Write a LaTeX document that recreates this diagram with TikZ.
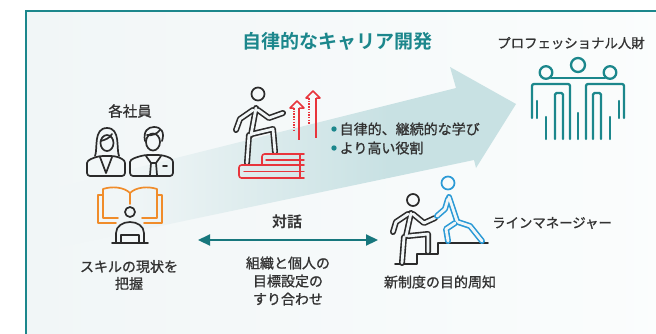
\documentclass[tikz,border=0pt]{standalone}
\usepackage{fontspec}
\setmainfont{Noto Sans CJK JP}[BoldFont={Noto Sans CJK JP Bold}]
\newfontfamily\jpmid{Noto Sans CJK JP}[FakeBold=1.1]
\usetikzlibrary{arrows.meta}

\definecolor{tealmain}{HTML}{1C878C}
\definecolor{tealdark}{HTML}{17777D}
\definecolor{arrfill}{HTML}{C8E1E3}
\definecolor{bgA}{HTML}{F1F6F7}
\definecolor{bgB}{HTML}{FBFDFD}
\definecolor{txt}{HTML}{333333}
\definecolor{icon}{HTML}{2B2B2B}
\definecolor{redi}{HTML}{E8353C}
\definecolor{orangei}{HTML}{F08C2A}
\definecolor{bluei}{HTML}{2B9AD6}

\pgfdeclarehorizontalshading{arrowfade}{100bp}{color(0bp)=(bgA); color(32bp)=(bgA); color(48bp)=(arrfill!55!bgA); color(61bp)=(arrfill); color(100bp)=(arrfill)}

\tikzset{
  label/.style={text=txt, font=\jpmid\fontsize{14}{16}\selectfont, inner sep=0pt, align=center},
  heading/.style={text=txt, font=\jpmid\fontsize{14.5}{16}\selectfont, inner sep=0pt},
  thinicon/.style={draw=icon, line width=1.7pt, line cap=round, line join=round},
  outerline/.style={line width=6pt, line cap=round, line join=round},
  innerline/.style={draw=bgA, line width=2.8pt, line cap=round, line join=round},
  peopleline/.style={draw=tealmain, line width=2.3pt, line cap=round, line join=round},
}

\begin{document}
\begin{tikzpicture}[x=1pt,y=-1pt]
\useasboundingbox (0,0) rectangle (656,333);

% panel with teal frame
\shade[left color=bgA, right color=bgB] (26,11) rectangle (680,350);
\draw[tealmain, line width=2.2pt] (26,350) -- (26,11) -- (680,11);

% wide growth arrow
\path[shading=arrowfade]
  (60,187) -- (456,88) -- (450,67) -- (516,104) -- (476,168) -- (474,160) -- (60,247) -- cycle;

% title
\node[text=tealmain, font=\fontsize{19}{22}\selectfont\bfseries, inner sep=0pt] (title) at (337,41) {自律的なキャリア開発};

% professional group
\node[heading, font=\jpmid\fontsize{13.4}{16}\selectfont] (pro) at (571,43) {プロフェッショナル人財};
\draw[peopleline] (578,65) circle[radius=7pt];
\draw[peopleline] (546,72.5) circle[radius=6.3pt];
\draw[peopleline] (610,72.5) circle[radius=6.3pt];
\draw[peopleline] (551,78) -- (605,78);
% left figure
\draw[peopleline, rounded corners=2pt] (532,118) -- (532,84) -- (570,84) -- (570,139);
\draw[peopleline] (537,101) -- (537,118);
\draw[peopleline] (546,117) -- (546,139);
\draw[peopleline, rounded corners=1.5pt] (555,139) -- (555,93) -- (563,93) -- (563,139);
% right figure
\draw[peopleline, rounded corners=2pt] (624,118) -- (624,84) -- (586,84) -- (586,139);
\draw[peopleline] (619,101) -- (619,118);
\draw[peopleline] (610,117) -- (610,139);
\draw[peopleline, rounded corners=1.5pt] (601,139) -- (601,93) -- (593,93) -- (593,139);
% centre figure
\draw[peopleline] (578,113) -- (578,139);

% employees
\node[heading] (emp) at (130,111) {各社員};
% woman
\draw[thinicon] (107,143) ellipse[x radius=6.5pt, y radius=8pt];
\draw[thinicon] (95,156) .. controls (98,149) and (93,128) .. (107,128) .. controls (121,128) and (116,149) .. (119,156);
\draw[thinicon] (100.5,141) .. controls (105,140) and (110,138) .. (112,134);
\draw[thinicon, rounded corners=3pt] (87,176) -- (87,166) .. controls (87,160) and (93,158) .. (100,156) -- (114,156) .. controls (121,158) and (125,160) .. (125,166) -- (125,176) -- cycle;
\draw[thinicon] (100,157) -- (106,173) -- (112,157);
% man
\draw[thinicon] (153,142) ellipse[x radius=7pt, y radius=8.5pt];
\draw[thinicon] (145,141) .. controls (143,131) and (148,127) .. (154,127) .. controls (161,127) and (165,132) .. (162,141);
\draw[thinicon] (147,135) .. controls (152,136) and (157,134) .. (160,130);
\draw[thinicon, rounded corners=3pt] (130,176) -- (130,165) .. controls (130,159) and (137,157) .. (145,155) -- (161,155) .. controls (169,157) and (173,159) .. (173,165) -- (173,176) -- cycle;
\draw[thinicon] (146,156) -- (151,163) -- (156,163) -- (161,156);
\draw[thinicon] (151,163) -- (150,175);
\draw[thinicon] (156,163) -- (157,175);
\draw[thinicon] (163,166) -- (167,166);

% reader with open book
\draw[orangei, line width=1.7pt, line join=round, line cap=round]
  (118,218) -- (103,218) -- (103,189) .. controls (112,186) and (124,187) .. (130,193)
  .. controls (136,187) and (148,186) .. (157,189) -- (157,218) -- (142,218);
\draw[orangei, line width=1.7pt, line join=round, line cap=round]
  (116,223) -- (98,223) -- (98,195) -- (103,195);
\draw[orangei, line width=1.7pt, line join=round, line cap=round]
  (144,223) -- (162,223) -- (162,195) -- (157,195);
\draw[orangei, line width=1.7pt, line cap=round] (130,193) -- (130,204);
\draw[thinicon] (130,212) circle[radius=5pt];
\draw[thinicon] (116,242) -- (116,233) .. controls (116,226) and (123,222) .. (130,222) .. controls (137,222) and (144,226) .. (144,233) -- (144,242);
\draw[thinicon] (121,242) -- (121,235) -- (139,235) -- (139,242);
\draw[thinicon] (112,243) -- (148,243);

\node[label] (skill) at (129,275) {スキルの現状を\\[1pt]把握};

% climber on books
\draw[thinicon] (258,94) circle[radius=6.5pt];
\foreach \s in {outerline, innerline}{
  \draw[draw=icon, \s] (256,108) -- (251,135);
  \draw[draw=icon, \s] (258,110) -- (269,118) -- (283,113);
  \draw[draw=icon, \s] (253,110) -- (240,119) -- (236,130);
  \draw[draw=icon, \s] (249,135) -- (247,163);
  \draw[draw=icon, \s] (252,134) -- (273,129) -- (275,152);
}
% books
\draw[redi, line width=1.6pt, line join=round, line cap=round, rounded corners=2.5pt]
  (304,165) -- (239,165) -- (239,178) -- (304,178);
\draw[redi, line width=1.4pt, line cap=round] (244,171.5) -- (304,171.5);
\draw[redi, line width=1.4pt, line cap=round] (300,165) -- (300,178);
\draw[redi, line width=1.6pt, line join=round, line cap=round, rounded corners=2.5pt]
  (304,154) -- (262,154) -- (262,165);
\draw[redi, line width=1.4pt, line cap=round] (266,160) -- (304,160);
\draw[redi, line width=1.4pt, line cap=round] (300,154) -- (300,165);
% rising arrows
\draw[redi, line width=1.5pt, line join=round] (294,108) -- (290,108) -- (297,101) -- (304,108) -- (299,108);
\draw[redi, line width=1.5pt] (299,108) -- (299,140);
\draw[redi, line width=1.5pt, dash pattern=on 1.5pt off 1.2pt] (294,108) -- (294,131);
\draw[redi, line width=1.5pt, line join=round] (309,98) -- (306,98) -- (313,91) -- (320,98) -- (316,98);
\draw[redi, line width=1.5pt] (316,98) -- (316,138);
\draw[redi, line width=1.5pt, dash pattern=on 1.5pt off 1.2pt] (309,98) -- (309,124);

% bullet points
\fill[tealmain] (334,129) circle[radius=2.7pt];
\node[label, anchor=west] (b1) at (339.5,129) {自律的、継続的な学び};
\fill[tealmain] (334,148) circle[radius=2.7pt];
\node[label, anchor=west] (b2) at (339.5,148) {より高い役割};

% dialogue arrow
\node[text=txt, font=\fontsize{15}{17}\selectfont\bfseries, inner sep=0pt] (dia) at (287,222) {対話};
\coordinate (dl) at (198,240);
\coordinate (dr) at (378,240);
\draw[tealdark, line width=2.2pt, {Triangle[length=12pt, width=11pt]}-{Triangle[length=12pt, width=11pt]}] (dl) -- (dr);
\node[label, text width=120pt] (align) at (288,281) {組織と個人の\\[2pt]目標設定の\\[2pt]すり合わせ};

% line manager helping
\draw[icon, line width=1.7pt, line join=round, line cap=round]
  (395,264) -- (417,264) -- (417,254) -- (438,254) -- (438,243) -- (488,243);
\draw[thinicon] (413,200) circle[radius=6pt];
\foreach \s in {outerline, innerline}{
  \draw[draw=icon, \s] (411,213) -- (406,236);
  \draw[draw=icon, \s] (408,214) -- (396,222) -- (393,232);
  \draw[draw=icon, \s] (413,214) -- (424,223) -- (435,218);
  \draw[draw=icon, \s] (404,237) -- (402,263);
  \draw[draw=icon, \s] (408,236) -- (428,234) -- (428,252);
}
\draw[bluei, line width=1.7pt] (448,183) circle[radius=6.5pt];
\foreach \s in {outerline, innerline}{
  \draw[draw=bluei, \s] (449,197) -- (457,221);
  \draw[draw=bluei, \s] (448,199) -- (445,209) -- (437,216);
  \draw[draw=bluei, \s] (458,222) -- (470,226) -- (482,241);
  \draw[draw=bluei, \s] (455,223) -- (446,229) -- (448,241);
}
\node[heading, font=\jpmid\fontsize{13.4}{16}\selectfont, anchor=west] (mgr) at (492,223) {ラインマネージャー};
\node[label] (notice) at (440,282) {新制度の目的周知};

\end{tikzpicture}
\end{document}
